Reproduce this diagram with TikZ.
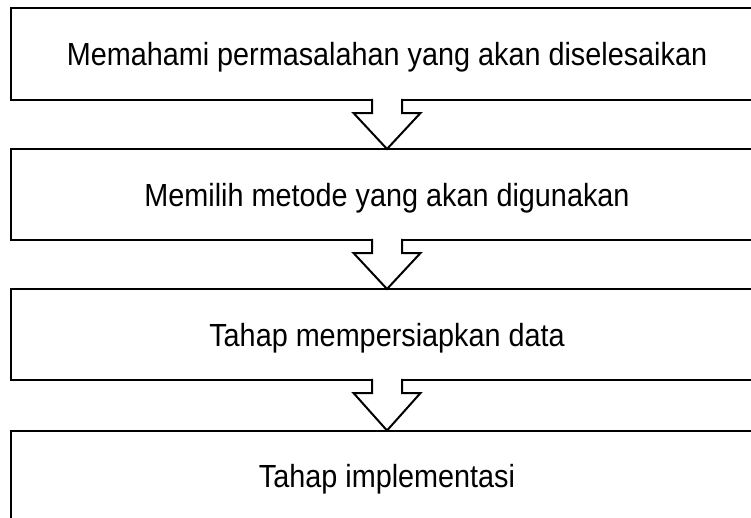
\documentclass[tikz,border=0pt]{standalone}
\usepackage{fontspec}
\setmainfont{Liberation Sans}[FakeStretch=0.9]
\usetikzlibrary{calc}
\begin{document}
\begin{tikzpicture}[x=1pt,y=-1pt,
  stagebox/.style={draw=black, line width=2pt, fill=white, minimum width=752pt,
    minimum height=91pt, inner sep=0pt, outer sep=0pt,
    text height=23pt, text depth=0pt,
    font=\fontsize{32}{38}\selectfont},
  hollowarrow/.style={draw=black, line width=2pt, fill=white, line join=miter}]
\useasboundingbox (0,0) rectangle (751,517);
\clip (0,0) rectangle (751,517);
\fill[white] (0,0) rectangle (751,517);
\node[stagebox, minimum height=92pt] (b1) at (387,54) {Memahami permasalahan yang akan diselesaikan};
\node[stagebox] (b2) at (387,194.5) {Memilih metode yang akan digunakan};
\node[stagebox] (b3) at (387,334.5) {Tahap mempersiapkan data};
\node[stagebox] (b4) at (387,476) {Tahap implementasi};
\foreach \a/\b in {b1/b2, b2/b3, b3/b4}{
  \filldraw[hollowarrow]
    ($(\a.south)+(-15,-1.2)$) -- ($(\a.south)+(-15,13)$) -- ($(\a.south)+(-33.5,13)$)
    -- (\b.north)
    -- ($(\a.south)+(33.5,13)$) -- ($(\a.south)+(15,13)$) -- ($(\a.south)+(15,-1.2)$);
}
\end{tikzpicture}
\end{document}
